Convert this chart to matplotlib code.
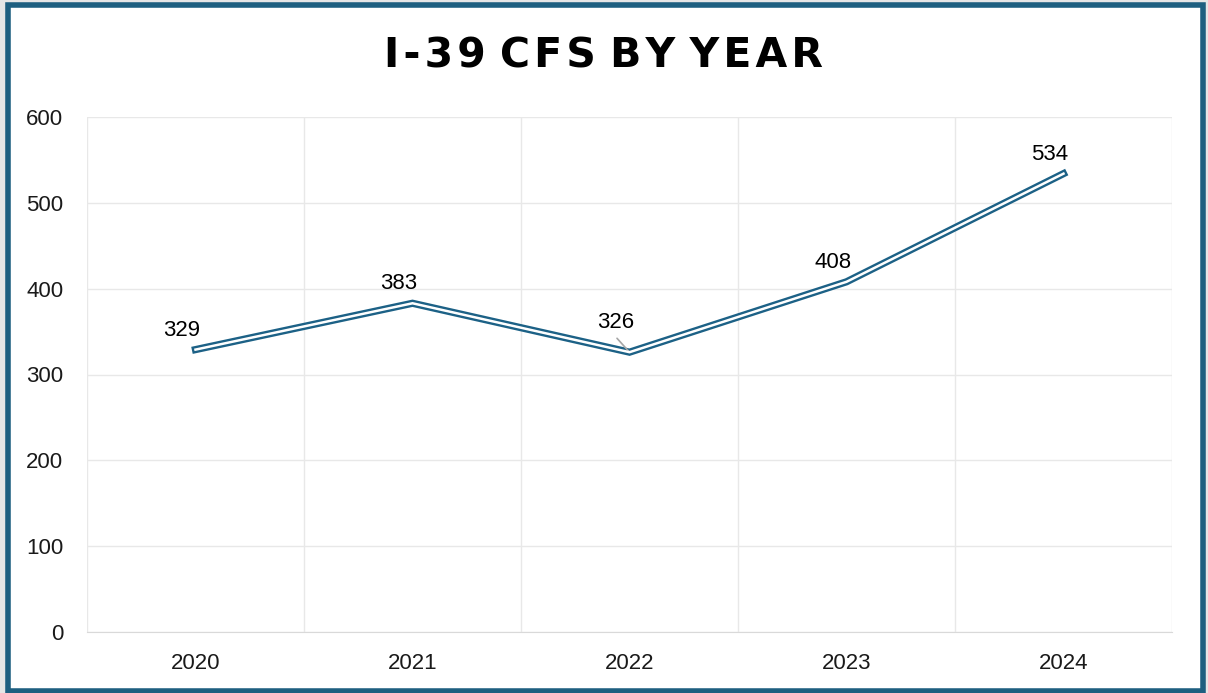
import matplotlib
matplotlib.use('agg')

import matplotlib.pyplot as plt
from matplotlib.patches import Rectangle

years = ['2020', '2021', '2022', '2023', '2024']
cfs = [329, 383, 326, 408, 534]
title = 'I-39 CFS BY YEAR'

teal = '#1c6186'
border = '#1e5f80'

fig = plt.figure(figsize=(12.08, 6.93), dpi=100, facecolor='#e6e6e6')
fig.patches.append(Rectangle((8 / 1208, 2 / 693), 1195 / 1208, 686 / 693,
                             transform=fig.transFigure, facecolor='white',
                             edgecolor=border, linewidth=4, zorder=-10))

ax = fig.add_axes([87 / 1208, 1 - 632 / 693, 1085 / 1208, 515 / 693])
ax.set_zorder(2)
ax.set_facecolor('none')

x = list(range(len(years)))
ax.plot(x, cfs, color=teal, lw=5.2, solid_joinstyle='miter', zorder=3)
ax.plot(x, cfs, color='white', lw=1.8, solid_joinstyle='miter', zorder=4)

ax.set_xlim(-0.5, len(years) - 0.5)
ax.set_ylim(0, 600)
ax.set_yticks(range(0, 601, 100))
ax.set_xticks(x)
ax.set_xticklabels(years)
ax.set_xticks([i - 0.5 for i in range(len(years) + 1)], minor=True)

ax.grid(True, axis='y', color='#e8e8e8', lw=1)
ax.grid(True, axis='x', which='minor', color='#e8e8e8', lw=1)
ax.grid(False, axis='x', which='major')
for s in ['top', 'right', 'left']:
    ax.spines[s].set_visible(False)
ax.spines['bottom'].set_color('#d9d9d9')
ax.tick_params(axis='both', which='both', length=0, labelsize=16,
               labelcolor='#1a1a1a')
ax.tick_params(axis='y', pad=17)
ax.tick_params(axis='x', pad=15)
for lbl in ax.get_xticklabels() + ax.get_yticklabels():
    lbl.set_fontfamily('Liberation Sans')

# data labels, nudged up and a little left like the original
for i, v in enumerate(cfs):
    dy = 14 if i == 2 else 6.5
    ax.annotate(str(v), (i, v), xytext=(-10, dy), textcoords='offset points',
                ha='center', va='bottom', fontsize=16,
                fontfamily='Liberation Sans', color='black', zorder=5)
# leader line on 2022 (label sits further off the line)
ax.annotate('', (2, cfs[2]), xytext=(-9, 10), textcoords='offset points',
            arrowprops=dict(arrowstyle='-', color='#a6a6a6', lw=1.2,
                            shrinkA=0, shrinkB=0))

spaced = '\u200a'.join(title).replace('\u200a \u200a', ' ')
fig.text(0.5, 1 - 56 / 693, spaced, ha='center', va='center',
         fontsize=29.5, fontweight='bold', fontfamily='DejaVu Sans',
         color='black')

fig.savefig('out.png', dpi=100, facecolor=fig.get_facecolor())
